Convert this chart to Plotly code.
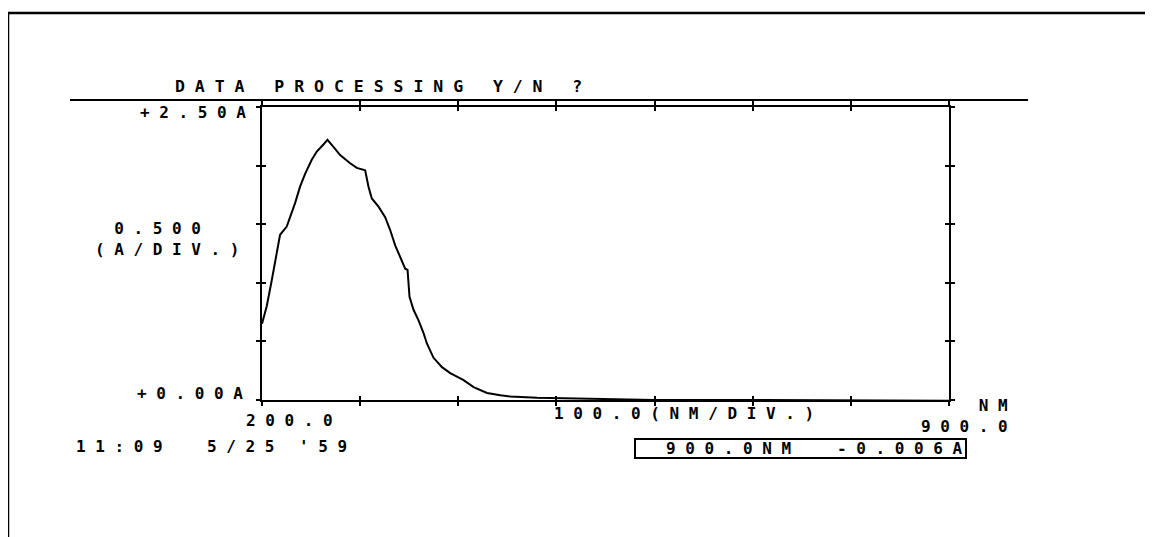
import plotly.graph_objects as go

# ---- data ----
wavelength_nm = [200.0, 204.8, 209.9, 214.3, 218.4, 225.2, 230.3, 233.7, 238.8, 243.9,
                 250.7, 255.8, 262.6, 266.7, 272.8, 279.6, 289.8, 296.6, 305.1, 308.5,
                 311.9, 318.7, 325.5, 330.6, 335.7, 340.8, 345.9, 348.3, 350.3, 354.4,
                 359.5, 364.6, 368.1, 374.8, 383.4, 391.8, 405.4, 415.6, 429.3, 442.9,
                 453.1, 480.3, 546.6, 600.0, 700.0, 800.0, 900.0]
absorbance_A = [0.65, 0.80, 1.02, 1.22, 1.41, 1.48, 1.59, 1.68, 1.82, 1.93,
                2.05, 2.12, 2.18, 2.22, 2.16, 2.09, 2.02, 1.98, 1.96, 1.82,
                1.72, 1.65, 1.56, 1.45, 1.32, 1.22, 1.12, 1.11, 0.88, 0.77,
                0.68, 0.57, 0.48, 0.36, 0.28, 0.23, 0.17, 0.11, 0.06, 0.04,
                0.03, 0.02, 0.01, 0.0, 0.0, 0.0, -0.006]

x_range = [200, 900]
y_range = [0, 2.5]
x_ticks = [200, 300, 400, 500, 600, 700, 800, 900]
y_ticks = [0, 0.5, 1.0, 1.5, 2.0, 2.5]

title_text = "DATA PROCESSING Y/N ?"
y_top_label = "+2.50A"
y_bottom_label = "+0.00A"
y_scale_value = "0.500"
y_scale_unit = "(A/DIV.)"
x_left_label = "200.0"
x_scale_label = "100.0(NM/DIV.)"
x_right_label = "900.0"
x_unit_label = "NM"
time_label = "11:09"
date_label = "5/25"
year_label = "'59"
readout_nm = "900.0NM"
readout_abs = "-0.006A"

# ---- layout geometry (page pixels; the page body adds an 8px offset) ----
OFF = 8
PAGE_W, PAGE_H = 1153, 537
W, H = PAGE_W - OFF, PAGE_H - OFF
L, R, T, B = 262, 949, 107, 400   # plot area edges in page pixels

def px(x):
    return (x - L) / (R - L)

def py(y):
    return (B - y) / (B - T)

def spaced(s):
    return " ".join(list(s))

FONT = "DejaVu Sans Mono"
BLACK = "#000000"

fig = go.Figure()
fig.add_trace(go.Scatter(x=wavelength_nm, y=absorbance_A, mode="lines",
                         line=dict(color=BLACK, width=2), hoverinfo="skip",
                         showlegend=False))
# invisible twin on overlay axes so inner ticks are drawn (tick crosses)
fig.add_trace(go.Scatter(x=wavelength_nm, y=absorbance_A, mode="lines",
                         line=dict(color="rgba(0,0,0,0)", width=0), hoverinfo="skip",
                         showlegend=False, xaxis="x2", yaxis="y2"))

axis_common = dict(showgrid=False, zeroline=False, showticklabels=False,
                   ticklen=4, tickwidth=2, tickcolor=BLACK)

fig.update_layout(
    width=W, height=H,
    margin=dict(l=L - OFF, r=PAGE_W - R, t=T - OFF, b=PAGE_H - B, pad=0),
    paper_bgcolor="white", plot_bgcolor="white",
    showlegend=False,
    xaxis=dict(range=x_range, tickmode="array", tickvals=x_ticks, ticks="outside",
               showline=True, linecolor=BLACK, linewidth=2, mirror="ticks", **axis_common),
    yaxis=dict(range=y_range, tickmode="array", tickvals=y_ticks, ticks="outside",
               showline=True, linecolor=BLACK, linewidth=2, mirror="ticks", **axis_common),
    xaxis2=dict(range=x_range, tickmode="array", tickvals=x_ticks, ticks="inside",
                overlaying="x", anchor="y2", showline=False, mirror="ticks", **axis_common),
    yaxis2=dict(range=y_range, tickmode="array", tickvals=y_ticks, ticks="inside",
                overlaying="y", anchor="x2", showline=False, mirror="ticks", **axis_common),
)

def ann(text, x, y, xanchor, size=16, align="left"):
    fig.add_annotation(text=text, x=px(x), y=py(y), xref="paper", yref="paper",
                       xanchor=xanchor, yanchor="middle", showarrow=False, align=align,
                       font=dict(family=FONT, size=size, color=BLACK, weight="bold"),
                       borderpad=0)

ann(spaced(title_text), 174, 86, "left", size=16.5)
ann(spaced(y_top_label), 247, 113, "right")
ann(spaced(" " + y_scale_value) + "<br>" + spaced(y_scale_unit), 94, 239, "left")
ann(spaced(y_bottom_label), 244, 393, "right")
ann(spaced(x_left_label), 245, 420, "left")
ann(spaced(x_scale_label), 553, 413, "left")
ann(spaced(x_unit_label) + "<br>" + spaced(x_right_label), 1009, 416, "right", align="right")
ann(spaced(time_label), 75, 446, "left")
ann(spaced(date_label), 206, 446, "left")
ann(spaced(year_label), 298, 446, "left")
ann(spaced(readout_nm), 665, 448.5, "left")
ann(spaced(readout_abs), 964, 448.5, "right")

line_style = dict(color=BLACK, width=2)
# outer frame (top and left edges of the printout)
fig.add_shape(type="line", xref="paper", yref="paper", x0=px(8), y0=py(13), x1=px(PAGE_W + 5), y1=py(13),
              line=dict(color=BLACK, width=2.5))
fig.add_shape(type="line", xref="paper", yref="paper", x0=px(8), y0=py(13), x1=px(8), y1=py(PAGE_H + 5),
              line=dict(color=BLACK, width=2.5))
# separator under the prompt line
fig.add_shape(type="line", xref="paper", yref="paper", x0=px(70), y0=py(100), x1=px(1028), y1=py(100),
              line=line_style)
# readout box
fig.add_shape(type="rect", xref="paper", yref="paper", x0=px(635), y0=py(439), x1=px(966), y1=py(458),
              line=line_style, fillcolor="rgba(0,0,0,0)")

fig.write_html("out.html")
